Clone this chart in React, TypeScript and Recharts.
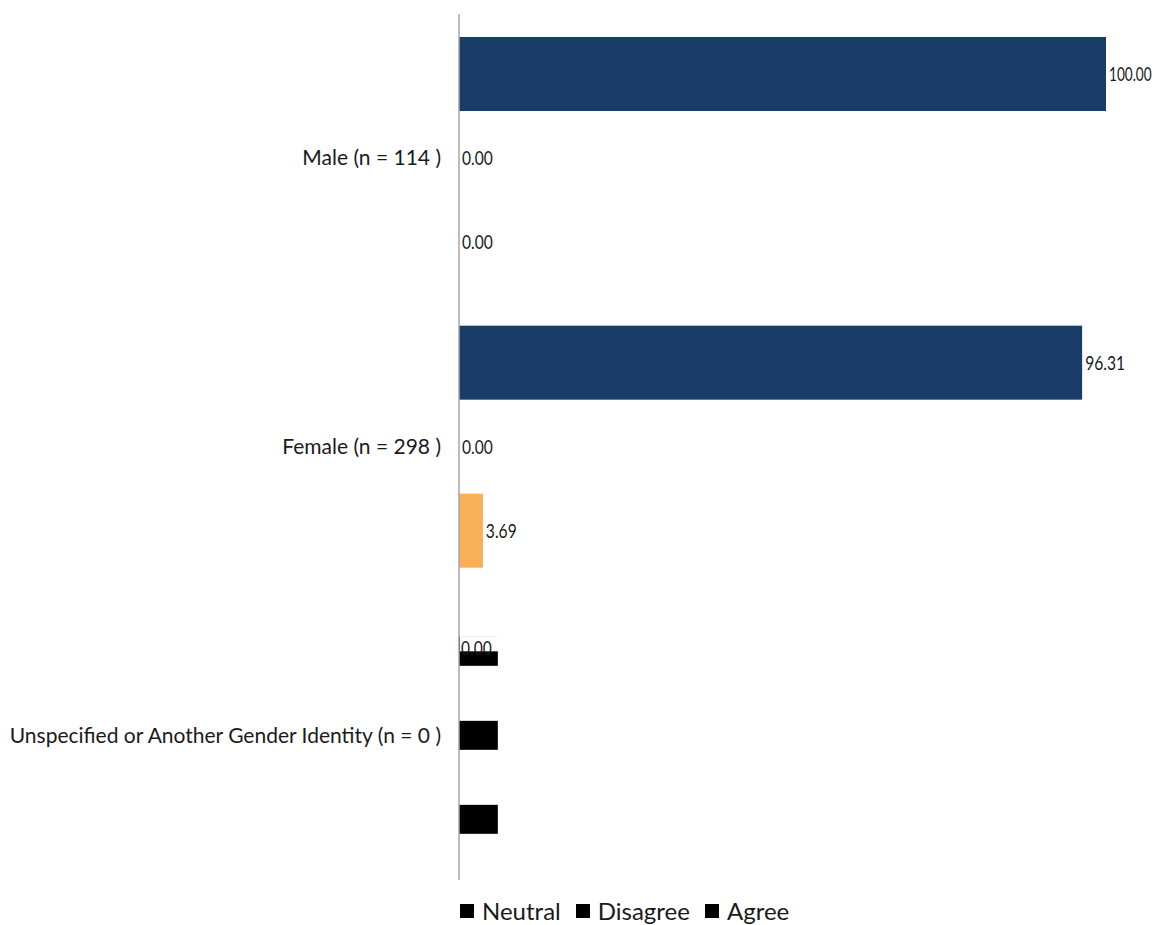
import { Bar, BarChart, Cell, LabelList, XAxis, YAxis } from 'recharts'

const categories = [
  'Male (n = 114 )',
  'Female (n = 298 )',
  'Unspecified or Another Gender Identity (n = 0 )',
]
const agree = [100.0, 96.31, 0.0]
const disagree = [0.0, 0.0, null]
const neutral = [0.0, 3.69, null]
// the n = 0 group is drawn with short black stubs
const emptyGroupStub = 6.0
const legendOrder = ['Neutral', 'Disagree', 'Agree']

const FONT = 'Lato, "Open Sans", sans-serif'
const BLUE = '#1A3C68'
const ORANGE = '#F9AF55'

const rows = categories.map((name, i) => {
  const empty = i === 2
  return {
    name,
    agree: empty ? emptyGroupStub : agree[i],
    disagree: empty ? emptyGroupStub : disagree[i],
    neutral: empty ? emptyGroupStub : neutral[i],
    agreeLabel: agree[i],
    disagreeLabel: disagree[i],
    neutralLabel: neutral[i],
  }
})

function BarShape(props: any) {
  const { x, y, width, height, fill, index } = props
  if (index === 2) {
    const h = 29
    return <rect x={x} y={y + (height - h) / 2} width={width} height={h} fill="#000" />
  }
  return <rect x={x} y={y} width={width} height={height} fill={fill} />
}

function ValueLabel(props: any) {
  const { x, y, width, height, value, index } = props
  if (value === null || value === undefined) return null
  const text = Number(value).toFixed(2)
  const empty = index === 2
  // empty group: label sits at the zero line, on top of the stub
  const tx = empty ? x + 1 : x + width + 2
  const cy = empty ? y + height / 2 - 3 : y + height / 2
  const sx = text.length > 5 ? 0.68 : 0.78
  const w = empty ? 40 : text.length * 10 * sx + 4
  return (
    <g>
      <rect x={empty ? x + 1 : tx} y={cy - 12} width={w} height={empty ? 15 : 24} fill="#fff" />
      {/* narrow the glyphs, like the source's condensed face */}
      <text
        transform={`translate(${tx + 1},${cy + 7}) scale(${sx},1)`}
        fontSize={20}
        fontFamily={FONT}
        fill="#1a1a1a"
      >
        {text}
      </text>
    </g>
  )
}

function CategoryTick(props: any) {
  const { x, y, payload } = props
  return (
    <text x={x - 10} y={y} dy={7} textAnchor="end" fontSize={21} fontFamily={FONT} fill="#1a1a1a">
      {payload.value}
    </text>
  )
}

export default function App() {
  return (
    <div style={{ width: 1146, fontFamily: FONT }}>
      <BarChart
        width={1146}
        height={872}
        data={rows}
        layout="vertical"
        margin={{ top: 6, right: 48, bottom: 0, left: 0 }}
        barSize={74}
        barGap={10}
      >
        <XAxis type="number" domain={[0, 100]} hide />
        <YAxis
          type="category"
          dataKey="name"
          width={451}
          tickLine={false}
          axisLine={{ stroke: '#a6a6a6', strokeWidth: 1.5 }}
          tick={<CategoryTick />}
          interval={0}
        />
        <Bar dataKey="agree" fill={BLUE} shape={<BarShape />} isAnimationActive={false}>
          {rows.map((_, i) => (
            <Cell key={i} fill={BLUE} />
          ))}
          <LabelList dataKey="agreeLabel" content={<ValueLabel />} />
        </Bar>
        <Bar dataKey="disagree" fill="#7f7f7f" shape={<BarShape />} isAnimationActive={false}>
          <LabelList dataKey="disagreeLabel" content={<ValueLabel />} />
        </Bar>
        <Bar dataKey="neutral" fill={ORANGE} shape={<BarShape />} isAnimationActive={false}>
          <LabelList dataKey="neutralLabel" content={<ValueLabel />} />
        </Bar>
      </BarChart>
      <div
        style={{
          display: 'flex',
          gap: 15,
          paddingLeft: 452,
          paddingTop: 18,
          fontSize: 24,
          lineHeight: '26px',
          color: '#1a1a1a',
        }}
      >
        {legendOrder.map((name) => (
          <span key={name} style={{ display: 'flex', alignItems: 'center' }}>
            <span
              style={{ display: 'inline-block', width: 14, height: 14, background: '#000', marginRight: 8 }}
            />
            {name}
          </span>
        ))}
      </div>
    </div>
  )
}
